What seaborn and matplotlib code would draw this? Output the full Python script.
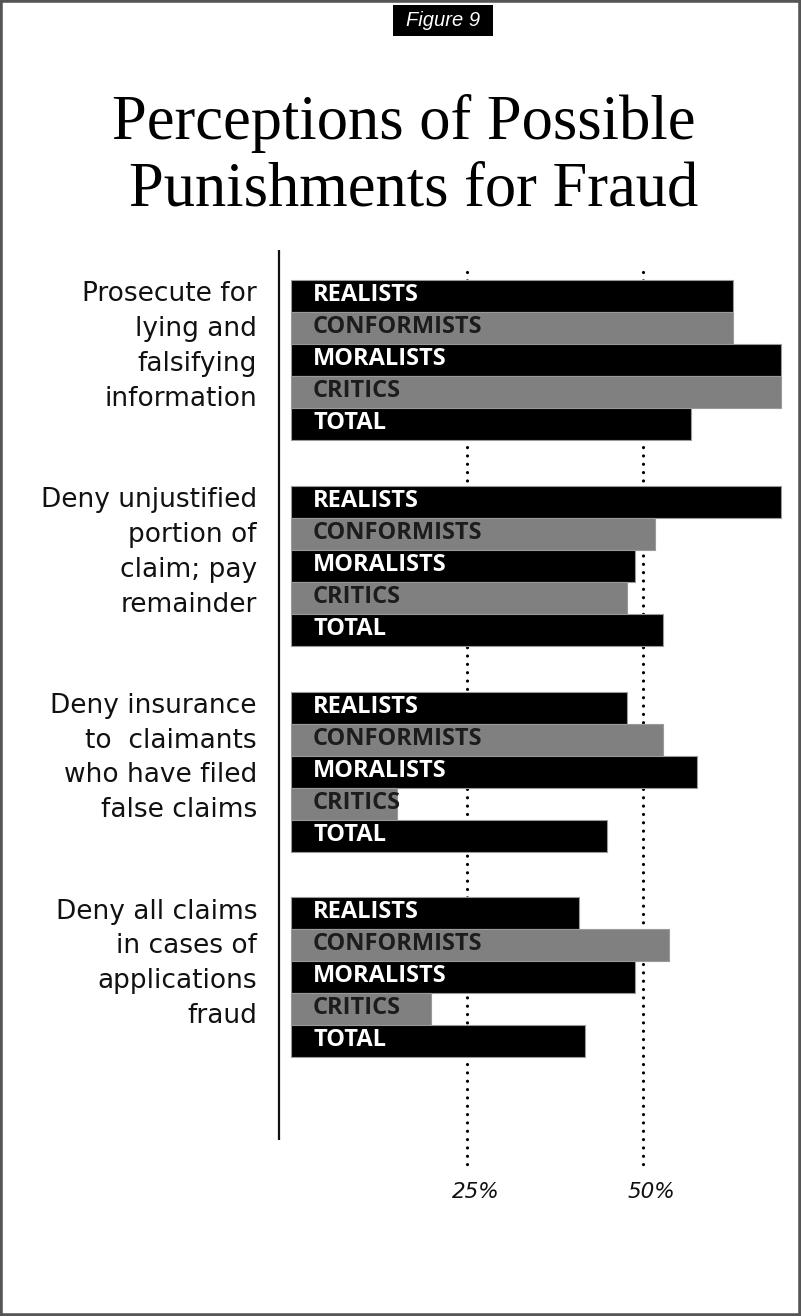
import numpy as np
import pandas as pd
import matplotlib
matplotlib.use("Agg")
import matplotlib.pyplot as plt
import seaborn as sns
from matplotlib.patches import Rectangle

# ---------------- data ----------------
questions = [
    "Prosecute for\nlying and\nfalsifying\ninformation",
    "Deny unjustified\nportion of\nclaim; pay\nremainder",
    "Deny insurance\nto  claimants\nwho have filed\nfalse claims",
    "Deny all claims\nin cases of\napplications\nfraud",
]
segments = ["REALISTS", "CONFORMISTS", "MORALISTS", "CRITICS", "TOTAL"]
realists = [62.8, 69.6, 47.7, 40.9]
conformists = [62.8, 51.7, 52.8, 53.7]
moralists = [69.6, 48.9, 57.7, 48.9]
critics = [69.6, 47.7, 15.1, 19.9]
total = [56.8, 52.8, 44.9, 41.8]
tick_values = [25, 50]
tick_labels = ["25%", "50%"]
fig_label = "Figure 9"
title_lines = ["Perceptions of Possible", "Punishments for Fraud"]

# ---------------- layout ----------------
W, H = 801, 1316
GROUP_STEP = 6.43
series = {"REALISTS": realists, "CONFORMISTS": conformists, "MORALISTS": moralists,
          "CRITICS": critics, "TOTAL": total}
rows = []
for g, q in enumerate(questions):
    for i, s in enumerate(segments):
        rows.append({"question": q, "segment": s, "value": series[s][g],
                     "pos": g * GROUP_STEP + i})
df = pd.DataFrame(rows)

palette = {"REALISTS": "#000000", "CONFORMISTS": "#808080", "MORALISTS": "#000000",
           "CRITICS": "#808080", "TOTAL": "#000000"}
text_col = {"REALISTS": "white", "CONFORMISTS": "#1c1c1c", "MORALISTS": "white",
            "CRITICS": "#1c1c1c", "TOTAL": "white"}

fig = plt.figure(figsize=(W / 100, H / 100), dpi=100)
fig.patch.set_facecolor("white")

px_per_pct = 7.04
x_left = -(291 - 279) / px_per_pct
x_right = (799 - 291) / px_per_pct
ax_left_px, ax_right_px = 279, 799
ax_top_px, ax_bot_px = 250, 1168
ax = fig.add_axes([ax_left_px / W, 1 - ax_bot_px / H,
                   (ax_right_px - ax_left_px) / W, (ax_bot_px - ax_top_px) / H])

sns.barplot(data=df, x="value", y="pos", hue="segment", palette=palette,
            orient="h", native_scale=True, width=1.0, dodge=False,
            errorbar=None, legend=False, edgecolor="#9a9a9a", linewidth=0.8,
            ax=ax, zorder=2)

bar_px = 32.0
y_first_top_px = 280
def ypx(p):
    return -0.5 + (p - y_first_top_px) / bar_px

ax.set_xlim(x_left, x_right)
ax.set_ylim(ypx(ax_bot_px), ypx(ax_top_px))

# dotted reference lines
lc = ax.vlines(tick_values, ypx(272), ypx(ax_bot_px), colors="black",
               linestyles=[(0, (0.01, 2.6))], linewidth=2.3, zorder=1, clip_on=False)
lc.set_capstyle("round")

# vertical axis line
ax.vlines([x_left], ypx(ax_top_px), ypx(1140), colors="#111111", linewidth=1.6,
          clip_on=False, zorder=3)

for sp in ax.spines.values():
    sp.set_visible(False)
ax.set_xticks([])
ax.set_yticks([])
ax.set_xlabel("")
ax.set_ylabel("")
ax.set_facecolor("none")

# tick labels
for v, lbl in zip(tick_values, tick_labels):
    ax.annotate(lbl, xy=(v, 0), xycoords=("data", "axes fraction"),
                xytext=(6, -10), textcoords="offset points", ha="center", va="top",
                fontsize=15.5, style="italic", family="DejaVu Sans", color="#111111")

# labels inside bars
for _, r in df.iterrows():
    ax.text((313 - 291) / px_per_pct, r["pos"] - 0.03, r["segment"], ha="left", va="center",
            color=text_col[r["segment"]], fontsize=17, fontweight="bold",
            family="Open Sans", zorder=4, clip_on=False)

# group labels
label_x = (257 - 291) / px_per_pct
for g, q in enumerate(questions):
    yc = g * GROUP_STEP + 2 - 0.42
    ax.text(label_x, yc, q, ha="right", va="center", fontsize=19,
            family="DejaVu Sans", color="#111111", linespacing=1.44, clip_on=False)

# frame
fig.patches.append(Rectangle((0, 0), 1, 1, transform=fig.transFigure, fill=False,
                             edgecolor="#555555", linewidth=4))

# "Figure 9" box
bx0, bx1, by0, by1 = 393, 493, 5, 36
fig.patches.append(Rectangle((bx0 / W, 1 - by1 / H), (bx1 - bx0) / W, (by1 - by0) / H,
                             transform=fig.transFigure, facecolor="black", edgecolor="none"))
fig.text((bx0 + bx1) / 2 / W, 1 - (by0 + by1) / 2 / H, fig_label, ha="center", va="center",
         color="white", style="italic", family="Liberation Sans", fontsize=14.5)

# title
for line, base, cx in zip(title_lines, [139, 205], [404, 414]):
    fig.text(cx / W, 1 - base / H, line, ha="center", va="baseline",
             family="Liberation Serif", fontsize=45, color="black")

fig.savefig("out.png", dpi=100, facecolor="white")
